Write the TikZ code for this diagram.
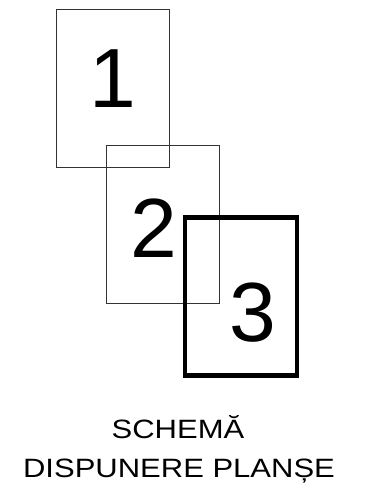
\documentclass[tikz,border=0pt]{standalone}
\usepackage{fontspec}
\setmainfont{Liberation Sans}
\newfontfamily\captionfont[FakeStretch=1.17]{Liberation Sans}
\usetikzlibrary{positioning}
\tikzset{
  sheetbox/.style={rectangle, draw=black!80, line width=1pt, inner sep=0pt,
    minimum width=112.6pt, minimum height=158.3pt},
  activebox/.style={sheetbox, draw=black, line width=4.7pt,
    minimum width=112pt, minimum height=158pt},
  sheetnum/.style={anchor=base, inner sep=0pt, font=\fontsize{84}{84}\selectfont},
  captiontext/.style={anchor=base, inner sep=0pt, font=\captionfont\fontsize{26.5}{30}\selectfont}
}

\begin{document}
\begin{tikzpicture}[x=1pt, y=-1pt]
  \useasboundingbox (0,0) rectangle (384,492);

  % sheets
  \node[sheetbox] (sheet1) at (113,88.2) {};
  \node[sheetbox] (sheet2) at (163,224.2) {};
  \node[activebox] (sheet3) at (241,296.5) {};

  % sheet numbers
  \node[sheetnum] (num1) at (113,107) {1};
  \node[sheetnum] (num2) at (154,257) {2};
  \node[sheetnum] (num3) at (253,341) {3};

  % caption
  \node[captiontext] (title1) at (178,438) {SCHEMĂ};
  \node[captiontext] (title2) at (179,477) {DISPUNERE PLANȘE};
\end{tikzpicture}
\end{document}
